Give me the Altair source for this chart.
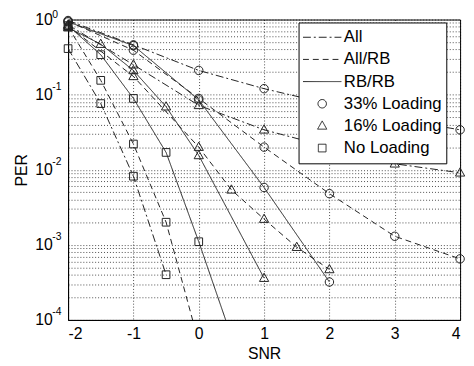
import altair as alt
import pandas as pd

FONT = "Liberation Sans"

style_names = ["All", "All/RB", "RB/RB"]
loading_names = ["33% Loading", "16% Loading", "No Loading"]

# All (dash-dot)
all_33_x = [-2, -1, 0, 1, 2, 3, 4]
all_33_y = [0.97, 0.46, 0.21, 0.12, 0.075, 0.048, 0.034]
all_16_x = [-2, -1, 0, 1, 2, 3, 4]
all_16_y = [0.85, 0.25, 0.072, 0.034, 0.020, 0.012, 0.0091]
all_0_x = [-2, -1.5, -1, -0.5]
all_0_y = [0.41, 0.076, 0.0082, 0.0004]
# All/RB (dashed)
allrb_33_x = [-2, -1, 0, 1, 2, 3, 4]
allrb_33_y = [0.95, 0.39, 0.089, 0.020, 0.0048, 0.0013, 0.00065]
allrb_16_x = [-2, -1, 0, 0.5, 1, 1.5, 2]
allrb_16_y = [0.82, 0.175, 0.020, 0.0054, 0.0022, 0.00093, 0.00047]
allrb_0_x = [-2, -1.5, -1, -0.5, 0]
allrb_0_y = [0.80, 0.155, 0.022, 0.0020, 0.00005]
# RB/RB (solid)
rbrb_33_x = [-2, -1, 0, 1, 2]
rbrb_33_y = [0.93, 0.45, 0.085, 0.0058, 0.00032]
rbrb_16_x = [-2, -1.5, -1, -0.5, 0, 1]
rbrb_16_y = [0.78, 0.47, 0.21, 0.069, 0.0155, 0.00036]
rbrb_0_x = [-2, -1.5, -1, -0.5, 0, 0.5]
rbrb_0_y = [0.83, 0.34, 0.089, 0.017, 0.0011, 0.00006]

x_ticks = [-2, -1, 0, 1, 2, 3, 4]
decades = [1, 0.1, 0.01, 0.001, 0.0001]
exponents = ["0", "-1", "-2", "-3", "-4"]
minor_steps = [1, 2, 3, 4, 5, 6, 7, 8, 9]

series = [
    ("All", "33% Loading", all_33_x, all_33_y),
    ("All", "16% Loading", all_16_x, all_16_y),
    ("All", "No Loading", all_0_x, all_0_y),
    ("All/RB", "33% Loading", allrb_33_x, allrb_33_y),
    ("All/RB", "16% Loading", allrb_16_x, allrb_16_y),
    ("All/RB", "No Loading", allrb_0_x, allrb_0_y),
    ("RB/RB", "33% Loading", rbrb_33_x, rbrb_33_y),
    ("RB/RB", "16% Loading", rbrb_16_x, rbrb_16_y),
    ("RB/RB", "No Loading", rbrb_0_x, rbrb_0_y),
]

line_rows, point_rows = [], []
for style, load, xs, ys in series:
    for xv, yv in zip(xs, ys):
        line_rows.append({"series": style + "|" + load, "key": style, "snr": xv, "per": yv})
        if yv >= decades[-1]:
            point_rows.append({"series": style + "|" + load, "key": load, "snr": xv, "per": yv})
line_df = pd.DataFrame(line_rows)
point_df = pd.DataFrame(point_rows)
exp_top_df = pd.DataFrame({"snr": [x_ticks[0]], "per": decades[:1], "exp": exponents[:1]})
exp_df = pd.DataFrame({"snr": [x_ticks[0]] * (len(decades) - 1), "per": decades[1:], "exp": exponents[1:]})

y_grid = sorted([d * m for d in decades[1:] for m in minor_steps] + [decades[0]])

keys = style_names + loading_names
line_path = "M-1,0H1"
circle_path = "M-0.22,0A0.22,0.22 0 1,0 0.22,0A0.22,0.22 0 1,0 -0.22,0Z"
tri_path = "M0,-0.26L0.24,0.17L-0.24,0.17Z"
sq_path = "M-0.2,-0.2H0.2V0.2H-0.2Z"
shape_range = [line_path, line_path, line_path, circle_path, tri_path, sq_path]
dash_range = [[8, 3, 2, 3], [6, 4], [1, 0], [1, 0], [1, 0], [1, 0]]

leg = alt.Legend(
    title=None, orient="none", legendX=234, legendY=3,
    fillColor="#ffffff", strokeColor="#000000", padding=4,
    clipHeight=22, rowPadding=0.5, labelOffset=2,
    labelFont=FONT, labelFontSize=17, labelColor="#000000",
    symbolSize=1521, symbolStrokeColor="#222222", symbolStrokeWidth=1,
    symbolFillColor="transparent",
)

x_enc = alt.X("snr:Q", scale=alt.Scale(domain=[x_ticks[0], x_ticks[-1]], nice=False),
              axis=alt.Axis(values=x_ticks, title="SNR", labelPadding=6, titlePadding=4,
                            labelExpr="'' + datum.value"))
y_enc = alt.Y("per:Q", scale=alt.Scale(type="log", domain=[decades[-1], decades[0]], nice=False),
              axis=alt.Axis(values=y_grid, title="PER", labelPadding=16, titlePadding=5,
                            labelExpr="abs(log(datum.value)/LN10 - round(log(datum.value)/LN10)) < 0.001 ? '10' : ''"))

lines = alt.Chart(line_df).mark_line(clip=True, color="#222222", strokeWidth=1).encode(
    x=x_enc, y=y_enc,
    strokeDash=alt.StrokeDash("key:N", scale=alt.Scale(domain=keys, range=dash_range), legend=leg),
    detail="series:N",
)

points = alt.Chart(point_df).mark_point(filled=False, size=1521, color="#222222",
                                        strokeWidth=1, opacity=1).encode(
    x=x_enc, y=y_enc,
    shape=alt.Shape("key:N", scale=alt.Scale(domain=keys, range=shape_range), legend=leg),
)

exps = alt.Chart(exp_df).mark_text(align="left", baseline="middle", dx=-16, dy=-8,
                                   fontSize=10.5, font=FONT, color="#000000").encode(
    x="snr:Q", y="per:Q", text="exp:N",
)
exps_top = alt.Chart(exp_top_df).mark_text(align="left", baseline="middle", dx=-16, dy=-5,
                                           fontSize=10.5, font=FONT, color="#000000").encode(
    x="snr:Q", y="per:Q", text="exp:N",
)

chart = alt.layer(lines, points, exps, exps_top).properties(
    width=398, height=305,
    autosize=alt.AutoSizeParams(type="none"),
    padding={"left": 61, "top": 9, "right": 6, "bottom": 40},
).configure_axis(
    labelFont=FONT, titleFont=FONT, labelFontSize=16, titleFontSize=16,
    labelColor="#000000", titleColor="#000000", titleFontWeight="normal",
    domainColor="#000000", gridColor="#000000", gridDash=[1, 2], gridOpacity=0.7,
    ticks=False,
).configure_view(stroke="#000000", strokeWidth=1)

chart.save("out.html", embed_options={"renderer": "svg", "actions": False})
